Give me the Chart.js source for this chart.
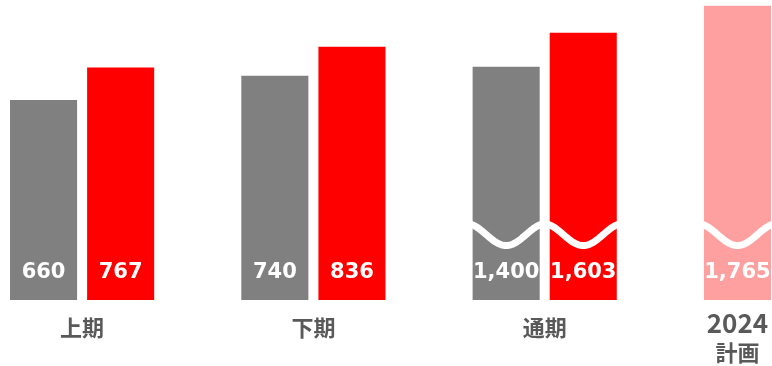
<!DOCTYPE html>
<html>
<head>
<meta charset="utf-8">
<script src="https://cdn.jsdelivr.net/npm/chart.js@4/dist/chart.umd.min.js"></script>
<style>
html,body{margin:0;padding:0;background:#fff;overflow:hidden}
#wrap{width:776px;height:366px}
</style>
</head>
<body>
<div id="wrap"><canvas id="chart" width="776" height="366"></canvas></div>
<script>
// group labels (2024 is two lines)
const groups = [["上期"], ["下期"], ["通期"], ["2024", "計画"]]
const prevYear = [660, 740, 1400]
const thisYear = [767, 836, 1603]
const plan = [1765]
// 通期 and 2024 are drawn on a compressed (broken) axis
const breakScale = 0.55
const brokenGroups = [2, 3]

const GRAY = "#808080"
const RED = "#ff0000"
const PINK = "#ffa0a0"

// build slots: 2 bars per group with an empty slot in between groups
let slotLabels = []
let slotValues = []
let slotReal = []
let slotColors = []
let slotBroken = []
let groupSlots = []
for (let g = 0; g < groups.length; g++) {
  let f = brokenGroups.includes(g) ? breakScale : 1
  let slots = []
  if (g < prevYear.length) {
    slots.push(slotValues.length)
    slotLabels.push(groups[g].join("") + "-a"); slotValues.push(prevYear[g] * f); slotReal.push(prevYear[g]); slotColors.push(GRAY); slotBroken.push(f != 1)
    slots.push(slotValues.length)
    slotLabels.push(groups[g].join("") + "-b"); slotValues.push(thisYear[g] * f); slotReal.push(thisYear[g]); slotColors.push(RED); slotBroken.push(f != 1)
  } else {
    slots.push(slotValues.length)
    slotLabels.push(groups[g].join("")); slotValues.push(plan[0] * f); slotReal.push(plan[0]); slotColors.push(PINK); slotBroken.push(f != 1)
  }
  groupSlots.push(slots)
  if (g < groups.length - 1) {
    slotLabels.push("gap" + g); slotValues.push(null); slotReal.push(null); slotColors.push("#fff"); slotBroken.push(false)
  }
}

const overlay = {
  id: "overlay",
  afterDatasetsDraw(chart) {
    const ctx = chart.ctx
    const meta = chart.getDatasetMeta(0)
    const y = chart.scales.y
    const x = chart.scales.x
    ctx.save()
    // break waves
    const waveY = y.getPixelForValue(216)
    ctx.strokeStyle = "#fff"
    ctx.lineWidth = 7
    meta.data.forEach((bar, i) => {
      if (!slotBroken[i]) return
      const half = bar.width / 2 + 4
      ctx.beginPath()
      for (let px = bar.x - half; px <= bar.x + half; px += 1) {
        const py = waveY + 11 * Math.cos(2 * Math.PI * (px - bar.x) / 80)
        if (px == bar.x - half) ctx.moveTo(px, py); else ctx.lineTo(px, py)
      }
      ctx.stroke()
    })
    // value labels
    ctx.fillStyle = "#fff"
    ctx.font = "bold 21px 'DejaVu Sans'"
    ctx.textAlign = "center"
    ctx.textBaseline = "middle"
    meta.data.forEach((bar, i) => {
      if (slotReal[i] == null) return
      ctx.fillText(slotReal[i].toLocaleString("en-US"), bar.x, bar.base - 27)
    })
    // group labels
    ctx.fillStyle = "#595959"
    groupSlots.forEach((slots, g) => {
      let cx = 0
      slots.forEach(s => cx += x.getPixelForValue(s))
      cx /= slots.length
      const lines = groups[g]
      if (lines.length == 1) {
        ctx.font = "bold 22px 'Noto Sans CJK JP'"
        ctx.fillText(lines[0], cx, 328)
      } else {
        ctx.font = "bold 26px 'Noto Sans CJK JP'"
        ctx.fillText(lines[0], cx, 323)
        ctx.font = "bold 22px 'Noto Sans CJK JP'"
        ctx.fillText(lines[1], cx, 353)
      }
    })
    ctx.restore()
  }
}

new Chart(document.getElementById("chart"), {
  type: "bar",
  data: {
    labels: slotLabels,
    datasets: [{
      data: slotValues,
      backgroundColor: slotColors,
      borderWidth: 0,
      barPercentage: 0.87,
      categoryPercentage: 1
    }]
  },
  options: {
    responsive: false,
    animation: false,
    layout: { padding: { left: 5, right: 0, top: 0, bottom: 66 } },
    plugins: { legend: { display: false }, tooltip: { enabled: false } },
    scales: {
      x: { display: false },
      y: { display: false, min: 0, max: 990 }
    }
  },
  plugins: [overlay]
})
</script>
</body>
</html>
